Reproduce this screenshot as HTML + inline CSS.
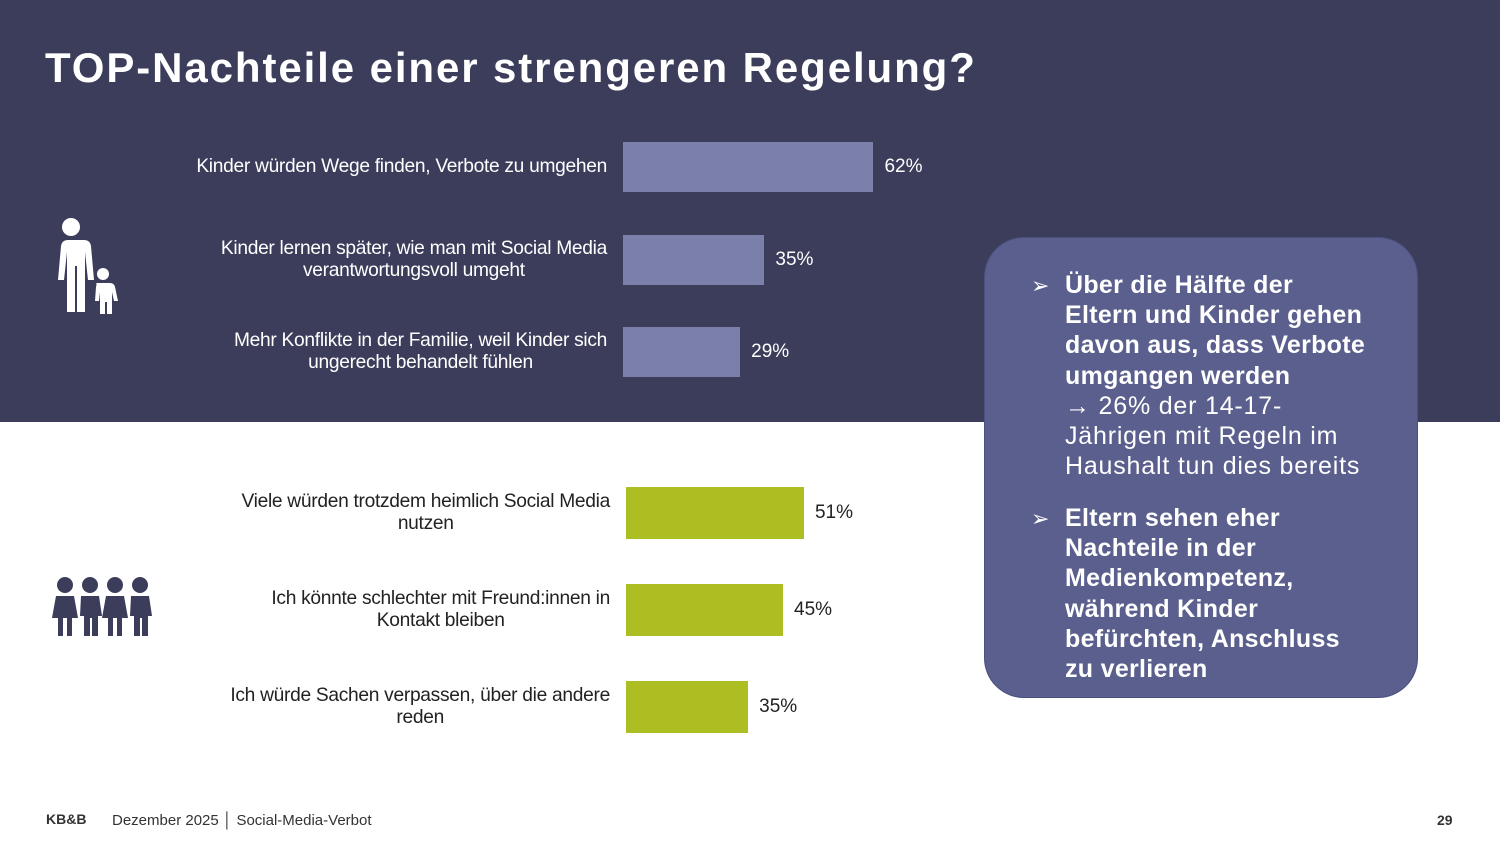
<!DOCTYPE html>
<html><head><meta charset="utf-8"><style>
body{margin:0;width:1500px;height:844px;position:relative;overflow:hidden;background:#fff;font-family:"Liberation Sans",sans-serif}
.band{position:absolute;left:0;top:0;width:1500px;height:422px;background:#3b3d5a}
h1{position:absolute;left:45px;top:44px;margin:0;color:#fff;font-size:42px;font-weight:bold;letter-spacing:1.9px}
.lbl{position:absolute;text-align:center;font-size:19.2px;line-height:22px;letter-spacing:-0.3px;white-space:nowrap}
.bar{position:absolute}
.val{position:absolute;font-size:19px}
.box{position:absolute;left:984px;top:237px;width:432px;height:459px;background:#5a5f8d;border-radius:40px;border:1px solid #4b5080}
.box p{position:absolute;left:80px;margin:0;color:#fff;font-size:25px;line-height:30.2px;white-space:nowrap;letter-spacing:0.3px}
.box p span{letter-spacing:0.8px}
.box .ar{position:absolute;left:46px;color:#fff;font-size:22px}
.foot{position:absolute;top:812px;font-size:15px;color:#333}
</style></head><body>
<div class="band"></div>
<h1>TOP-Nachteile einer strengeren Regelung?</h1>
<svg style="position:absolute;left:48px;top:216px" width="72" height="98" fill="#fff">
<circle cx="23" cy="11" r="9"/><path d="M10 24h26q6 0 7 6l3 34h-6l-3-28v60h-8v-46h-2v46h-8v-60l-3 28h-6l3-34q1-6 7-6z"/>
<circle cx="55" cy="58" r="6"/><path d="M48 67h14q4 0 5 4l3 14h-4l-2-9v22h-5v-12h-2v12h-5v-22l-1 9h-4l1-14q1-4 0-4z"/>
</svg>
<svg style="position:absolute;left:52px;top:576px" width="104" height="62" fill="#3b3d5a" id="kids"></svg>
<div id="chart"></div>
<div class="box">
<span class="ar" style="top:35px">➢</span>
<p style="top:32px"><b>Über die Hälfte der<br>Eltern und Kinder gehen<br>davon aus, dass Verbote<br>umgangen werden</b><br><span>→ 26% der 14-17-<br>Jährigen mit Regeln im<br>Haushalt tun dies bereits</span></p>
<span class="ar" style="top:268px">➢</span>
<p style="top:265px"><b>Eltern sehen eher<br>Nachteile in der<br>Medienkompetenz,<br>während Kinder<br>befürchten, Anschluss<br>zu verlieren</b></p>
</div>
<div class="foot" style="left:46px;font-weight:bold;font-size:14px;top:811px">KB&amp;B</div>
<div class="foot" style="left:112px">Dezember 2025 │ Social-Media-Verbot</div>
<div class="foot" style="left:1437px;font-weight:bold;font-size:14px">29</div>
<script>
const topCats=["Kinder würden Wege finden, Verbote zu umgehen","Kinder lernen später, wie man mit Social Media<br>verantwortungsvoll umgeht","Mehr Konflikte in der Familie, weil Kinder sich<br>ungerecht behandelt fühlen"];
const topVals=[62,35,29];
const botCats=["Viele würden trotzdem heimlich Social Media<br>nutzen","Ich könnte schlechter mit Freund:innen in<br>Kontakt bleiben","Ich würde Sachen verpassen, über die andere<br>reden"];
const botVals=[51,45,35];
const chart=document.getElementById('chart');
function draw(cats,vals,x0,y0,step,h,scale,color,txt,lblRight){
  cats.forEach((c,i)=>{
    const y=y0+i*step;
    const b=document.createElement('div');b.className='bar';
    
    
    b.style.cssText=`left:${x0}px;top:${y}px;width:${vals[i]*scale}px;height:${h}px;background:${color}`;
    chart.appendChild(b);
    const v=document.createElement('div');v.className='val';
    
    
    v.style.cssText=`left:${x0+vals[i]*scale+11}px;top:${y+h/2-11}px;color:${txt}`;
    v.textContent=vals[i]+'%';chart.appendChild(v);
    const l=document.createElement('div');l.className='lbl';
    
    
    const lines=c.split('<br>').length;
    l.style.cssText=`right:${1500-lblRight}px;top:${y+h/2-lines*11}px;color:${txt}`;
    l.innerHTML=c;chart.appendChild(l);
  });
}
draw(topCats,topVals,623,142,92.5,50,4.04,'#7b80aa','#fff',607);
draw(botCats,botVals,626,487,97,52,3.49,'#adbe23','#222',610);
const k=document.getElementById('kids');let s='';
for(let i=0;i<4;i++){const cx=13+i*25;
s+=`<circle cx="${cx}" cy="9" r="8"/>`;
s+= i%2==0?`<path d="M${cx-9} 20h18l4 22h-6v18h-5v-18h-4v18h-5v-18h-6z"/>`:`<path d="M${cx-9} 20h18l3 20h-4v20h-6v-18h-2v18h-6v-20h-4z"/>`;}
k.innerHTML=s;
</script>
</body></html>
